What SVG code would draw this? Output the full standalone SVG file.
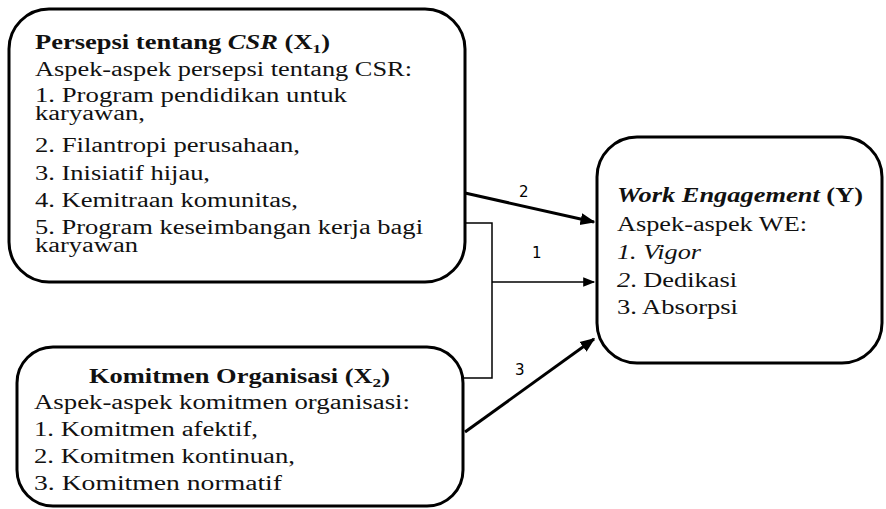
<svg xmlns="http://www.w3.org/2000/svg" width="886" height="509" viewBox="0 0 886 509">
<style>
.box{fill:#fff;stroke:#000;stroke-width:3}
.t{font-size:20px;fill:#111}
.b{font-weight:bold}
.i{font-style:italic}
.lbl{font-family:'DejaVu Sans',sans-serif;font-size:15px;fill:#000}
.thin{fill:none;stroke:#000;stroke-width:1.5}
.thick{fill:none;stroke:#000;stroke-width:3}
</style>
<defs>
<marker id="ah" viewBox="0 0 10 10" refX="9" refY="5" markerWidth="5" markerHeight="5" markerUnits="strokeWidth" orient="auto">
<path d="M0,1 L10,5 L0,9 z" fill="#000"/>
</marker>
<marker id="ah2" viewBox="0 0 10 10" refX="9" refY="5" markerWidth="10" markerHeight="8" markerUnits="strokeWidth" orient="auto">
<path d="M0,1 L10,5 L0,9 z" fill="#000"/>
</marker>
</defs>
<rect width="886" height="509" fill="#fff"/>
<g id="connectors">
<path class="thin" d="M465,223 H492 V378 H463"/>
<path class="thin" d="M492,282 H594" marker-end="url(#ah2)"/>
<path class="thick" d="M465,193 L594,222" marker-end="url(#ah)"/>
<path class="thick" d="M465,432 L594,339" marker-end="url(#ah)"/>
<text class="lbl" x="519" y="197">2</text>
<text class="lbl" x="532" y="258">1</text>
<text class="lbl" x="515" y="375">3</text>
</g>
<g font-family="Liberation Serif, DejaVu Serif, serif">
<g id="x1">
<rect class="box" x="9" y="9" width="456" height="273" rx="40" ry="40"/>
<text class="t b" x="35" y="49" textLength="295" lengthAdjust="spacingAndGlyphs">Persepsi tentang <tspan class="i">CSR</tspan> (X<tspan font-size="13" dy="4">1</tspan><tspan dy="-4">)</tspan></text>
<text class="t" x="35" y="76" textLength="377" lengthAdjust="spacingAndGlyphs">Aspek-aspek persepsi tentang CSR:</text>
<text class="t" x="35" y="102" textLength="312" lengthAdjust="spacingAndGlyphs">1. Program pendidikan untuk</text>
<text class="t" x="35" y="120" textLength="110" lengthAdjust="spacingAndGlyphs">karyawan,</text>
<text class="t" x="35" y="152" textLength="265" lengthAdjust="spacingAndGlyphs">2. Filantropi perusahaan,</text>
<text class="t" x="35" y="180" textLength="175" lengthAdjust="spacingAndGlyphs">3. Inisiatif hijau,</text>
<text class="t" x="35" y="207" textLength="263" lengthAdjust="spacingAndGlyphs">4. Kemitraan komunitas,</text>
<text class="t" x="35" y="234" textLength="388" lengthAdjust="spacingAndGlyphs">5. Program keseimbangan kerja bagi</text>
<text class="t" x="35" y="252" textLength="103" lengthAdjust="spacingAndGlyphs">karyawan</text>
</g>
<g id="x2">
<rect class="box" x="17" y="347" width="446" height="159" rx="36" ry="36"/>
<text class="t b" x="89" y="383" textLength="301" lengthAdjust="spacingAndGlyphs">Komitmen Organisasi (X<tspan font-size="13" dy="4">2</tspan><tspan dy="-4">)</tspan></text>
<text class="t" x="34" y="409" textLength="376" lengthAdjust="spacingAndGlyphs">Aspek-aspek komitmen organisasi:</text>
<text class="t" x="34" y="436" textLength="224" lengthAdjust="spacingAndGlyphs">1. Komitmen afektif,</text>
<text class="t" x="34" y="463" textLength="261" lengthAdjust="spacingAndGlyphs">2. Komitmen kontinuan,</text>
<text class="t" x="34" y="490" textLength="248" lengthAdjust="spacingAndGlyphs">3. Komitmen normatif</text>
</g>
<g id="y">
<rect class="box" x="597" y="137" width="285" height="226" rx="40" ry="40"/>
<text class="t b" x="617" y="202" textLength="246" lengthAdjust="spacingAndGlyphs"><tspan class="i">Work Engagement</tspan> (Y)</text>
<text class="t" x="617" y="231" textLength="190" lengthAdjust="spacingAndGlyphs">Aspek-aspek WE:</text>
<text class="t i" x="617" y="259" textLength="84" lengthAdjust="spacingAndGlyphs">1. Vigor</text>
<text class="t" x="617" y="287" textLength="120" lengthAdjust="spacingAndGlyphs"><tspan class="i">2</tspan>. Dedikasi</text>
<text class="t" x="617" y="314" textLength="121" lengthAdjust="spacingAndGlyphs">3. Absorpsi</text>
</g>
</g>
</svg>
